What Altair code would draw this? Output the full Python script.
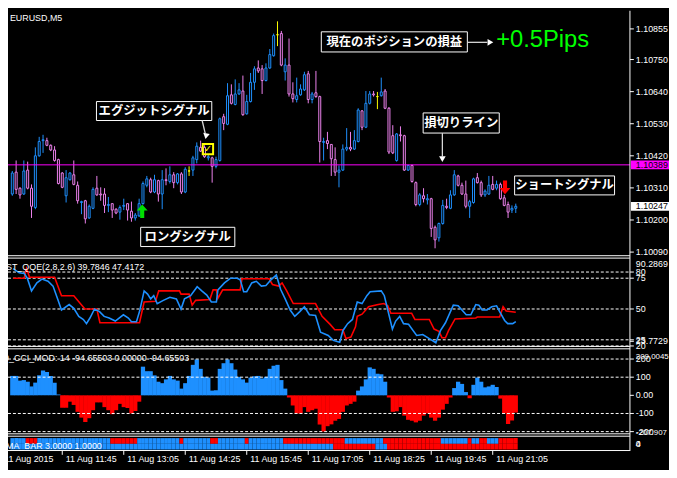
import altair as alt
import pandas as pd

# ------------------------------------------------------------------ data
# M5 candles, bar index -1 .. 130 (bar 12 = 11 Aug 11:45)
FIRST_BAR = -1
OPEN = [1.10289, 1.10364, 1.10309, 1.10289, 1.10371, 1.10309, 1.10243, 1.10420, 1.10472, 1.10472,
        1.10456, 1.10440, 1.10407, 1.10361, 1.10283, 1.10338, 1.10355, 1.10319, 1.10260, 1.10266,
        1.10207, 1.10240, 1.10309, 1.10289, 1.10289, 1.10250, 1.10256, 1.10237, 1.10227, 1.10247,
        1.10256, 1.10230, 1.10207, 1.10214, 1.10256, 1.10319, 1.10338, 1.10296, 1.10335, 1.10289,
        1.10338, 1.10332, 1.10355, 1.10328, 1.10358, 1.10296, 1.10368, 1.10371, 1.10407, 1.10449,
        1.10449, 1.10413, 1.10413, 1.10384, 1.10404, 1.10554, 1.10528, 1.10629, 1.10596, 1.10632,
        1.10642, 1.10564, 1.10606, 1.10672, 1.10721, 1.10718, 1.10678, 1.10721, 1.10763, 1.10835,
        1.10839, 1.10708, 1.10731, 1.10632, 1.10613, 1.10629, 1.10646, 1.10701, 1.10613, 1.10636,
        1.10623, 1.10466, 1.10472, 1.10459, 1.10407, 1.10364, 1.10371, 1.10443, 1.10449, 1.10443,
        1.10469, 1.10574, 1.10518, 1.10600, 1.10632, 1.10623, 1.10626, 1.10642, 1.10583, 1.10489,
        1.10404, 1.10492, 1.10489, 1.10371, 1.10387, 1.10328, 1.10253, 1.10283, 1.10269, 1.10273,
        1.10175, 1.10139, 1.10188, 1.10247, 1.10240, 1.10286, 1.10351, 1.10319, 1.10289, 1.10247,
        1.10260, 1.10345, 1.10328, 1.10286, 1.10289, 1.10322, 1.10309, 1.10322, 1.10276, 1.10253,
        1.10234, 1.10240]
HIGH = [1.10368, 1.10404, 1.10312, 1.10404, 1.10400, 1.10322, 1.10449, 1.10485, 1.10492, 1.10482,
        1.10459, 1.10453, 1.10410, 1.10364, 1.10371, 1.10364, 1.10404, 1.10332, 1.10266, 1.10269,
        1.10253, 1.10312, 1.10351, 1.10312, 1.10309, 1.10279, 1.10256, 1.10240, 1.10250, 1.10273,
        1.10256, 1.10263, 1.10224, 1.10273, 1.10332, 1.10351, 1.10345, 1.10355, 1.10338, 1.10371,
        1.10377, 1.10384, 1.10364, 1.10361, 1.10364, 1.10381, 1.10384, 1.10420, 1.10466, 1.10472,
        1.10456, 1.10426, 1.10417, 1.10417, 1.10551, 1.10564, 1.10669, 1.10665, 1.10682, 1.10669,
        1.10695, 1.10629, 1.10704, 1.10727, 1.10747, 1.10731, 1.10737, 1.10786, 1.10839, 1.10881,
        1.10848, 1.10754, 1.10822, 1.10672, 1.10688, 1.10665, 1.10708, 1.10711, 1.10639, 1.10711,
        1.10626, 1.10482, 1.10502, 1.10459, 1.10449, 1.10387, 1.10459, 1.10515, 1.10502, 1.10508,
        1.10583, 1.10577, 1.10642, 1.10642, 1.10642, 1.10639, 1.10688, 1.10649, 1.10587, 1.10525,
        1.10498, 1.10521, 1.10492, 1.10390, 1.10390, 1.10332, 1.10292, 1.10309, 1.10289, 1.10276,
        1.10181, 1.10191, 1.10269, 1.10273, 1.10302, 1.10371, 1.10355, 1.10328, 1.10335, 1.10269,
        1.10345, 1.10361, 1.10335, 1.10305, 1.10351, 1.10351, 1.10335, 1.10328, 1.10286, 1.10263,
        1.10250, 1.10256]
LOW = [1.10283, 1.10289, 1.10273, 1.10286, 1.10305, 1.10207, 1.10237, 1.10417, 1.10430, 1.10453,
       1.10436, 1.10400, 1.10322, 1.10309, 1.10260, 1.10335, 1.10319, 1.10256, 1.10220, 1.10188,
       1.10204, 1.10237, 1.10283, 1.10266, 1.10224, 1.10227, 1.10207, 1.10220, 1.10201, 1.10234,
       1.10198, 1.10194, 1.10198, 1.10211, 1.10253, 1.10312, 1.10292, 1.10292, 1.10263, 1.10237,
       1.10319, 1.10325, 1.10309, 1.10322, 1.10289, 1.10292, 1.10351, 1.10351, 1.10394, 1.10433,
       1.10413, 1.10404, 1.10328, 1.10377, 1.10400, 1.10508, 1.10525, 1.10596, 1.10593, 1.10629,
       1.10557, 1.10561, 1.10603, 1.10646, 1.10704, 1.10632, 1.10675, 1.10718, 1.10760, 1.10796,
       1.10727, 1.10678, 1.10623, 1.10603, 1.10603, 1.10626, 1.10642, 1.10600, 1.10600, 1.10619,
       1.10397, 1.10404, 1.10443, 1.10351, 1.10351, 1.10312, 1.10368, 1.10436, 1.10436, 1.10440,
       1.10466, 1.10508, 1.10515, 1.10596, 1.10623, 1.10580, 1.10623, 1.10580, 1.10426, 1.10426,
       1.10400, 1.10469, 1.10368, 1.10368, 1.10328, 1.10247, 1.10247, 1.10260, 1.10253, 1.10142,
       1.10103, 1.10126, 1.10184, 1.10237, 1.10237, 1.10283, 1.10315, 1.10286, 1.10240, 1.10207,
       1.10256, 1.10325, 1.10279, 1.10279, 1.10286, 1.10302, 1.10302, 1.10269, 1.10247, 1.10207,
       1.10224, 1.10224]
CLOSE = [1.10361, 1.10305, 1.10286, 1.10368, 1.10309, 1.10247, 1.10420, 1.10469, 1.10475, 1.10456,
         1.10440, 1.10404, 1.10325, 1.10312, 1.10345, 1.10361, 1.10322, 1.10266, 1.10263, 1.10204,
         1.10247, 1.10305, 1.10286, 1.10286, 1.10250, 1.10253, 1.10234, 1.10224, 1.10243, 1.10250,
         1.10234, 1.10207, 1.10217, 1.10256, 1.10325, 1.10341, 1.10296, 1.10338, 1.10289, 1.10338,
         1.10335, 1.10355, 1.10328, 1.10358, 1.10296, 1.10374, 1.10368, 1.10413, 1.10453, 1.10436,
         1.10417, 1.10417, 1.10384, 1.10407, 1.10547, 1.10531, 1.10626, 1.10600, 1.10632, 1.10646,
         1.10561, 1.10606, 1.10672, 1.10718, 1.10711, 1.10678, 1.10721, 1.10767, 1.10832, 1.10835,
         1.10731, 1.10731, 1.10632, 1.10616, 1.10626, 1.10649, 1.10698, 1.10613, 1.10632, 1.10623,
         1.10469, 1.10469, 1.10462, 1.10410, 1.10364, 1.10371, 1.10443, 1.10449, 1.10443, 1.10472,
         1.10577, 1.10518, 1.10600, 1.10632, 1.10629, 1.10623, 1.10639, 1.10583, 1.10433, 1.10430,
         1.10495, 1.10489, 1.10371, 1.10387, 1.10332, 1.10253, 1.10286, 1.10273, 1.10273, 1.10171,
         1.10132, 1.10188, 1.10250, 1.10243, 1.10286, 1.10355, 1.10319, 1.10289, 1.10247, 1.10263,
         1.10341, 1.10328, 1.10286, 1.10299, 1.10319, 1.10305, 1.10322, 1.10273, 1.10250, 1.10227,
         1.10240, 1.10247]

# ST_QQE(2,8,2.6): vertices (bar index, value)
QQE_FAST_BAR = [-0.8, 0.8, 2.1, 2.9, 4, 5.4, 6.7, 8.3, 9.6, 10.8, 11.8, 13.8, 15, 16.3, 17.5, 18.3, 19.2,
                20.4, 21.7, 22.9, 24.2, 25.8, 27.9, 29.2, 30, 31.3, 32.1, 33.3, 34.2, 35, 35.8, 36.7,
                38.3, 40, 41.7, 42.9, 43.8, 45.4, 47.1, 48.3, 49.6, 50.8, 52.1, 52.5, 54.2, 55.8, 57.5,
                58.3, 59.2, 60, 61.3, 62.5, 63.8, 65, 66.3, 67.7, 68.8, 70, 71.3, 72.5, 73.8, 75, 76.3,
                77.9, 79.2, 81.2, 82.5, 84.2, 85, 86.25, 87.5, 88.75, 90, 91.25, 92.1, 95, 95.8, 96.7,
                97.9, 98.75, 99.8, 100.8, 102.1, 104.2, 105.8, 107.5, 109.2, 110.4, 111.7, 113.75, 115,
                117.1, 118.3, 119.6, 120.4, 121.25, 122.5, 123.75, 125, 125.8, 127.1, 127.9, 129.2, 130]
QQE_FAST = [82.8, 79.4, 78.9, 75, 64.7, 71.2, 74.3, 72.5, 68.6, 58.2, 49.2, 53.6, 50.5, 44, 41.5, 38.1,
            42.7, 50, 47.9, 44, 42.7, 40.2, 45.3, 42.7, 39.6, 39.6, 47.9, 64.7, 62.1, 58.2, 60.8, 54.4,
            57, 59.5, 58.2, 50, 58.2, 60.8, 68.1, 64.7, 61.3, 55.7, 55.7, 65.5, 71.2, 75, 75, 73.7, 64,
            64, 71.2, 72.5, 68.6, 69.1, 73.7, 77.6, 66, 58.2, 49.2, 44, 47.9, 51.8, 45.3, 44.8, 31.1,
            28.5, 24.5, 23, 32.4, 38.1, 41.5, 55.7, 54.4, 60.8, 64, 64.7, 60.8, 49.2, 33.7, 40.2, 44,
            38.1, 37.6, 28.5, 29.3, 26, 22.6, 32.4, 38.8, 53.1, 52.6, 45.3, 45.3, 53.6, 53.1, 49.2,
            49.2, 51.8, 52.6, 47.9, 40.7, 38.1, 38.1, 39.8]
QQE_SLOW_BAR = [-0.8, 2.1, 2.7, 3.5, 10, 11.8, 15, 17.9, 21, 21.8, 32.1, 33.3, 36.25, 37.1, 42.5, 42.9,
                45, 45.8, 46.7, 50.4, 51.25, 52.1, 52.5, 53.75, 58.3, 58.75, 65.8, 66.7, 68.3, 69.2,
                70.4, 72.1, 77.9, 79.6, 81.7, 82.9, 85, 85.8, 87.1, 88.3, 88.75, 90, 91.7, 94.2, 95.7,
                96.7, 97.5, 102.9, 103.75, 107.5, 108.75, 110, 110.8, 111.7, 112.5, 114.2, 119.6, 120,
                125.8, 126.7, 127.5, 130]
QQE_SLOW = [75, 75, 82.8, 75.8, 75.8, 60.8, 60.8, 50, 50, 38.8, 38.8, 55.7, 56.2, 64.7, 64.7, 62.1,
            62.1, 53.1, 57, 57.7, 65.5, 65.5, 58.8, 65.5, 65.5, 74.5, 74.5, 69.9, 68.6, 71.2, 64.7,
            54.4, 54.4, 44, 37.5, 33.2, 33.2, 26, 27.2, 35.5, 44, 45.8, 51.8, 53.6, 54.4, 52.6, 46.6,
            46.6, 41.5, 41.5, 33.7, 31.9, 26.7, 26.7, 32.4, 41.9, 42.7, 43.5, 43.5, 51.8, 48.4, 47.4]

# CCI_MOD(14) histogram, one value per bar (-1 .. 130)
CCI = [107, 107, 81, 84, 75, 49, 70, 110, 137, 128, 107, 70, 5, -68, -68, -35, -53, -91, -123, -147,
       -126, -82, -39, -39, -65, -82, -104, -82, -47, -65, -70, -100, -86, -35, 158, 133, 133, 110,
       75, 67, 88, 107, 88, 81, 37, 67, 107, 168, 198, 146, 102, 98, 26, 28, 146, 177, 198, 177, 142,
       102, 88, 70, 98, 105, 107, 93, 102, 146, 163, 168, 84, 37, -12, -56, -100, -100, -65, -91, -82,
       -74, -161, -200, -170, -160, -140, -130, -91, -56, -47, -35, 26, 49, 88, 154, 146, 119, 116, 75,
       -12, -91, -88, -65, -112, -135, -140, -149, -140, -112, -100, -123, -140, -123, -79, -47, -12,
       40, 75, 63, 18, -16, 58, 98, 75, 44, 49, 58, 46, -18, -100, -158, -139, -95]

# MA_BAR 3.0000 1.0000 : runs of bearish (red) bars, every other bar bullish (blue)
MA_TOP_RED = [(3, 5), (25, 31), (43, 43), (51, 52), (60, 60), (70, 85), (96, 110), (118, 118),
              (121, 122), (126, 130)]
MA_BOT_RED = [(83, 93), (97, 130)]

PRICE_TICKS = [1.10855, 1.10750, 1.10640, 1.10530, 1.10420, 1.10310, 1.10200, 1.10090]
STOP_PRICE = 1.10389
LAST_PRICE = 1.10247
QQE_LEVELS = [80, 75, 50, 25, 20]
QQE_LABELS = ["80", "75", "50", "25", "23.7729", "20"]
QQE_LABEL_VALUES = [80, 75, 50, 25, 23.7729, 20]
QQE_MAX = 90.2869
CCI_LEVELS = [200, 100, -100, -200]
CCI_LABELS = ["200", "100", "0.00", "-100", "-200"]
CCI_LABEL_VALUES = [200, 100, 0, -100, -200]
CCI_RANGE_LABELS = ["209.0045", "-207.907"]
CCI_RANGE_VALUES = [209.0045, -207.907]
TIME_TICK_BARS = [-4, 12, 28, 44, 60, 76, 92, 108, 124]
TIME_TICK_LABELS = ["11 Aug 2015", "11 Aug 11:45", "11 Aug 13:05", "11 Aug 14:25", "11 Aug 15:45",
                    "11 Aug 17:05", "11 Aug 18:25", "11 Aug 19:45", "11 Aug 21:05"]

# annotations (anchored in bar / price space)
ANN_TEXT = ["エグジットシグナル", "現在のポジションの損益", "損切りライン", "ショートシグナル", "ロングシグナル"]
ANN_BAR_LEFT = [20.9, 79.4, 105.9, 129.7, 32.4]
ANN_BAR_RIGHT = [50.9, 117.4, 125.7, 155.7, 56.9]
ANN_PRICE_TOP = [1.10606, 1.10845, 1.10567, 1.10351, 1.10175]
ANN_PRICE_BOTTOM = [1.10541, 1.10776, 1.10498, 1.10286, 1.10109]
PIPS_TEXT = "+0.5Pips"
PIPS_BAR, PIPS_PRICE = 124.9, 1.10816
LONG_SIGNAL_BAR, LONG_SIGNAL_PRICE = 32.8, 1.10230
SHORT_SIGNAL_BAR, SHORT_SIGNAL_PRICE = 127.2, 1.10312
EXIT_MARK_BAR, EXIT_MARK_PRICE = 49.9, 1.10443

# ------------------------------------------------------------------ layout / style
W, H = 669, 462
SX, SY = W / 677, H / 478


def X(p):
    return p * SX


def Y(p):
    return p * SY


BULL, BEAR, DOJI = "#1e90ff", "#ee82ee", "#ffff00"
BLUE, RED = "#1e90ff", "#ff0000"
NUM_FONT = "Liberation Sans"
JP_FONT = "Noto Sans CJK JP"
AXIS_X = X(637)

xs = alt.Scale(domain=[-0.8325, 158.42], range=[0, AXIS_X], nice=False, zero=False)
ps = alt.Scale(domain=[1.10090, 1.10855], range=[Y(252.7), Y(19)], nice=False, zero=False)
qs = alt.Scale(domain=[20, 80], range=[Y(351.0), Y(273.6)], nice=False, zero=False)
cs = alt.Scale(domain=[-200, 200], range=[Y(440.7), Y(364.7)], nice=False, zero=False)
ms = alt.Scale(domain=[0, 2], range=[Y(459.5), Y(447.5)], nice=False, zero=False)


def xq(f):
    return alt.X(f, type="quantitative", scale=xs, axis=None)


def yq(f, s):
    return alt.Y(f, type="quantitative", scale=s, axis=None)


layers = []

# ---- candles
BARS = list(range(FIRST_BAR, FIRST_BAR + len(OPEN)))
cdf = pd.DataFrame({"bar": BARS, "o": OPEN, "h": HIGH, "l": LOW, "c": CLOSE})
cdf["col"] = [BULL if c > o else (BEAR if c < o else DOJI) for o, c in zip(OPEN, CLOSE)]
layers.append(alt.Chart(cdf).mark_rule(strokeWidth=1).encode(
    x=xq("bar"), y=yq("l", ps), y2="h:Q", color=alt.Color("col:N", scale=None)))
layers.append(alt.Chart(cdf).mark_bar(size=2, fill="black", strokeWidth=1).encode(
    x=xq("bar"), y=yq("o", ps), y2="c:Q", stroke=alt.Stroke("col:N", scale=None)))

# ---- stop line
sdf = pd.DataFrame({"v": [STOP_PRICE]})
layers.append(alt.Chart(sdf).mark_rule(color="#ff00ff", strokeWidth=1).encode(
    y=yq("v", ps), x=alt.value(0), x2=alt.value(AXIS_X)))

# ---- QQE
lv_df = pd.DataFrame({"v": QQE_LEVELS})
layers.append(alt.Chart(lv_df).mark_rule(color="white", strokeDash=[3, 2], strokeWidth=1).encode(
    y=yq("v", qs), x=alt.value(0), x2=alt.value(AXIS_X)))
qf = pd.DataFrame({"bar": QQE_FAST_BAR, "v": QQE_FAST})
qsl = pd.DataFrame({"bar": QQE_SLOW_BAR, "v": QQE_SLOW})
layers.append(alt.Chart(qsl).mark_line(color=RED, strokeWidth=1.6).encode(x=xq("bar"), y=yq("v", qs)))
layers.append(alt.Chart(qf).mark_line(color=BLUE, strokeWidth=1.6).encode(x=xq("bar"), y=yq("v", qs)))

# ---- CCI
cci_lv = pd.DataFrame({"v": CCI_LEVELS})
cci_df = pd.DataFrame({"bar": BARS, "v": CCI})
cci_df["col"] = [BLUE if v >= 0 else RED for v in CCI]
layers.append(alt.Chart(cci_df).mark_bar(size=X(4) + 0.35).encode(
    x=xq("bar"), y=yq("v", cs), y2=alt.datum(0), color=alt.Color("col:N", scale=None)))
layers.append(alt.Chart(cci_lv).mark_rule(color="white", strokeDash=[3, 2], strokeWidth=1).encode(
    y=yq("v", cs), x=alt.value(0), x2=alt.value(AXIS_X)))

# ---- MA_BAR
rows = []
for row, runs in ((1, MA_TOP_RED), (0, MA_BOT_RED)):
    for b in BARS:
        red = any(a <= b <= z for a, z in runs)
        rows.append({"x0": b - 0.5, "x1": b + 0.5, "y0": row, "y1": row + 1, "col": RED if red else BLUE})
ma_df = pd.DataFrame(rows)
layers.append(alt.Chart(ma_df).mark_rect().encode(
    x=xq("x0"), x2="x1:Q", y=yq("y0", ms), y2="y1:Q", color=alt.Color("col:N", scale=None)))

# ---- frame lines
SEP = [256.5, 259.0, 351.5, 354.0, 443.0, 445.5, 460.5]
sep_df = pd.DataFrame({"py": [Y(p) for p in SEP]})
layers.append(alt.Chart(sep_df).mark_rule(color="white", strokeWidth=1).encode(
    y=alt.Y("py:Q", scale=None, axis=None), x=alt.value(0), x2=alt.value(AXIS_X)))
layers.append(alt.Chart(pd.DataFrame({"a": [0]})).mark_rule(color="white", strokeWidth=1).encode(
    x=alt.value(AXIS_X), y=alt.value(0), y2=alt.value(Y(461))))


# ---- right axis labels
def right_labels(values, texts, scale, color="white", baseline="middle", size=9, ticks=True):
    d = pd.DataFrame({"v": values, "t": texts})
    out = []
    if ticks:
        out.append(alt.Chart(d).mark_rule(color="white", strokeWidth=1).encode(
            y=yq("v", scale), x=alt.value(AXIS_X), x2=alt.value(X(641))))
    out.append(alt.Chart(d).mark_text(align="left", baseline=baseline, font=NUM_FONT, fontSize=size,
                                      color=color).encode(
        y=yq("v", scale), x=alt.value(X(643)), text="t:N"))
    return out


layers += right_labels(PRICE_TICKS, [f"{p:.5f}" for p in PRICE_TICKS], ps)
layers += right_labels(QQE_LABEL_VALUES, QQE_LABELS, qs)
layers.append(alt.Chart(pd.DataFrame({"v": [QQE_MAX], "t": [f"{QQE_MAX:.4f}"]})).mark_text(
    align="left", baseline="top", font=NUM_FONT, fontSize=9, color="white", dy=1).encode(
    y=yq("v", qs), x=alt.value(X(643)), text="t:N"))
layers += right_labels(CCI_LABEL_VALUES, CCI_LABELS, cs)
layers += right_labels(CCI_RANGE_VALUES, CCI_RANGE_LABELS, cs, size=8, ticks=False)
layers.append(alt.Chart(pd.DataFrame({"v": [1, 1], "t": ["0", "4"]})).mark_text(
    align="left", baseline="middle", font=NUM_FONT, fontSize=9, color="white").encode(
    y=yq("v", ms), x=alt.value(X(643)), text="t:N"))

# price boxes on the axis
for price, fillc, txtc in ((STOP_PRICE, "#ff00ff", "black"), (LAST_PRICE, "white", "black")):
    bd = pd.DataFrame({"v": [price], "top": [price + 0.00015], "bot": [price - 0.00015],
                       "t": [f"{price:.5f}"]})
    layers.append(alt.Chart(bd).mark_rect(fill=fillc).encode(
        x=alt.value(AXIS_X + 1), x2=alt.value(W), y=yq("top", ps), y2="bot:Q"))
    layers.append(alt.Chart(bd).mark_text(align="left", baseline="middle", font=NUM_FONT, fontSize=9,
                                          color=txtc).encode(
        x=alt.value(X(643)), y=yq("v", ps), text="t:N"))

# ---- time axis
tdf = pd.DataFrame({"bar": TIME_TICK_BARS, "t": TIME_TICK_LABELS})
layers.append(alt.Chart(tdf).mark_rule(color="white", strokeWidth=1).encode(
    x=xq("bar"), y=alt.value(Y(461)), y2=alt.value(Y(465))))
layers.append(alt.Chart(tdf).mark_text(align="left", baseline="middle", font=NUM_FONT, fontSize=9,
                                       color="white", dx=3.5).encode(
    x=xq("bar"), y=alt.value(Y(469)), text="t:N"))

# ---- panel captions
captions = [("EURUSD,M5", 2, 8), ("ST_QQE(2,8,2.6) 39.7846 47.4172", -2, 268),
            ("0_CCI_MOD: 14 -94.65503 0.00000 -94.65503", -4, 364), ("MA_BAR 3.0000 1.0000", -2, 456)]
for text, px, py in captions:
    layers.append(alt.Chart(pd.DataFrame({"t": [text]})).mark_text(
        align="left", baseline="middle", font=NUM_FONT, fontSize=9, color="white").encode(
        x=alt.value(X(px)), y=alt.value(Y(py)), text="t:N"))

# ---- annotations
adf = pd.DataFrame({"t": ANN_TEXT, "x0": ANN_BAR_LEFT, "x1": ANN_BAR_RIGHT,
                    "y0": ANN_PRICE_TOP, "y1": ANN_PRICE_BOTTOM})
adf["xc"] = (adf.x0 + adf.x1) / 2
adf["yc"] = (adf.y0 + adf.y1) / 2
layers.append(alt.Chart(adf).mark_rect(fill="black", stroke="white", strokeWidth=1).encode(
    x=xq("x0"), x2="x1:Q", y=yq("y0", ps), y2="y1:Q"))
layers.append(alt.Chart(adf).mark_text(font=JP_FONT, fontSize=12.5, fontWeight="bold", color="white",
                                       align="center", baseline="middle").encode(
    x=xq("xc"), y=yq("yc", ps), text="t:N"))

# arrows from the boxes
arrow_lines = pd.DataFrame({
    "x0": [48.4, ANN_BAR_RIGHT[1], 110.9],
    "x1": [49.2, 122.6, 110.9],
    "y0": [ANN_PRICE_BOTTOM[0], 1.10809, ANN_PRICE_BOTTOM[2]],
    "y1": [1.10497, 1.10809, 1.10418]})
layers.append(alt.Chart(arrow_lines).mark_rule(color="#d8d8d8", strokeWidth=1.3).encode(
    x=xq("x0"), x2="x1:Q", y=yq("y0", ps), y2="y1:Q"))
HEAD_BAR = [49.4, 123.4, 110.9]
HEAD_PRICE = [1.10487, 1.10809, 1.10409]
HEAD_SHAPE = ["triangle-down", "triangle-right", "triangle-down"]
HEAD_ANGLE = [10, 0, 0]
for hb, hp, hs, ha in zip(HEAD_BAR, HEAD_PRICE, HEAD_SHAPE, HEAD_ANGLE):
    layers.append(alt.Chart(pd.DataFrame({"bar": [hb], "v": [hp]})).mark_point(
        shape=hs, filled=True, color="white", size=45, opacity=1, angle=ha).encode(
        x=xq("bar"), y=yq("v", ps)))

# +0.5Pips
layers.append(alt.Chart(pd.DataFrame({"bar": [PIPS_BAR], "v": [PIPS_PRICE], "t": [PIPS_TEXT]})).mark_text(
    align="left", baseline="middle", font=NUM_FONT, fontSize=24, color="#00ff00").encode(
    x=xq("bar"), y=yq("v", ps), text="t:N"))

# signal arrows
UP_ARROW = "M0,-1L0.8,-0.1L0.3,-0.1L0.3,1L-0.3,1L-0.3,-0.1L-0.8,-0.1Z"
DOWN_ARROW = "M0,1L0.8,0.1L0.3,0.1L0.3,-1L-0.3,-1L-0.3,0.1L-0.8,0.1Z"
layers.append(alt.Chart(pd.DataFrame({"bar": [LONG_SIGNAL_BAR], "v": [LONG_SIGNAL_PRICE]})).mark_point(
    shape=UP_ARROW, filled=True, color="#00e000", size=190, opacity=1).encode(x=xq("bar"), y=yq("v", ps)))
layers.append(alt.Chart(pd.DataFrame({"bar": [SHORT_SIGNAL_BAR], "v": [SHORT_SIGNAL_PRICE]})).mark_point(
    shape=DOWN_ARROW, filled=True, color="#ff0000", size=190, opacity=1).encode(x=xq("bar"), y=yq("v", ps)))

# exit mark (yellow check box)
edf = pd.DataFrame({"bar": [EXIT_MARK_BAR], "v": [EXIT_MARK_PRICE], "t": ["✓"]})
layers.append(alt.Chart(edf).mark_point(shape="square", filled=False, color="#ffff00", strokeWidth=2,
                                        size=110, opacity=1).encode(x=xq("bar"), y=yq("v", ps)))
layers.append(alt.Chart(edf).mark_text(font="DejaVu Sans", fontSize=10, fontWeight="bold", color="#ffff00",
                                       align="center", baseline="middle").encode(
    x=xq("bar"), y=yq("v", ps), text="t:N"))

chart = alt.layer(*layers).resolve_scale(y="independent").properties(
    width=W, height=H, padding=0, autosize=alt.AutoSizeParams(type="none"), background="black"
).configure_view(stroke=None, fill="black")

chart.save("out.html", embed_options={"renderer": "svg", "actions": False})
